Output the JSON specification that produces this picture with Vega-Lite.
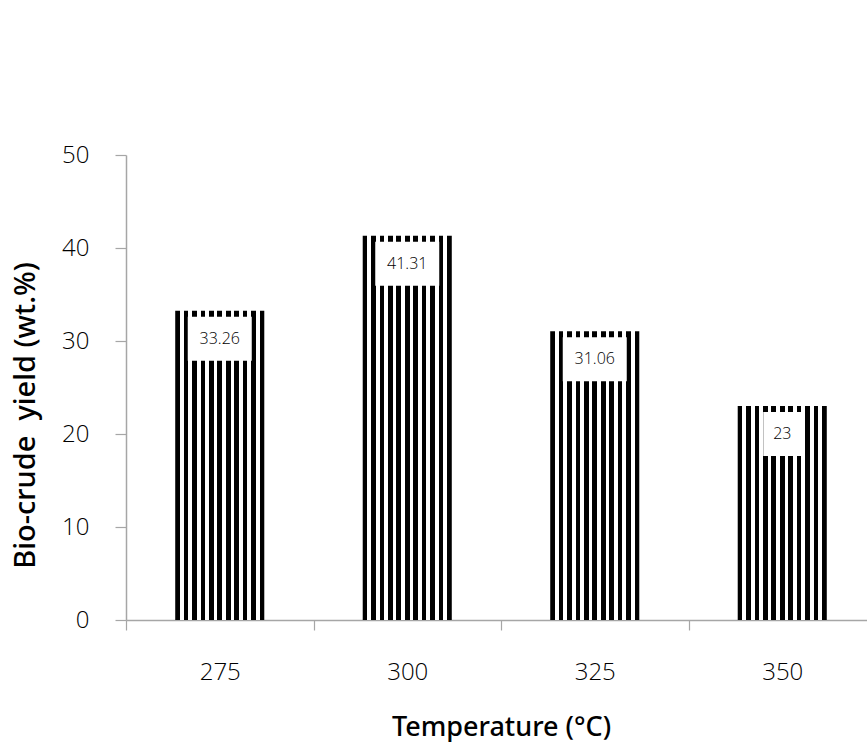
{
  "$schema": "https://vega.github.io/schema/vega-lite/v6.json",
  "width": 741,
  "height": 465,
  "autosize": {"type": "none"},
  "padding": {"left": 126, "top": 155, "right": 0, "bottom": 122},
  "background": "white",
  "config": {
    "view": {"stroke": null},
    "font": "Open Sans"
  },
  "data": {
    "values": [
      {"temperature": "275", "yield": 33.26, "label": "33.26"},
      {"temperature": "300", "yield": 41.31, "label": "41.31"},
      {"temperature": "325", "yield": 31.06, "label": "31.06"},
      {"temperature": "350", "yield": 23, "label": "23"}
    ]
  },
  "encoding": {
    "x": {
      "field": "temperature",
      "type": "nominal",
      "sort": null,
      "scale": {"range": [0, 750], "paddingInner": 0, "paddingOuter": 0},
      "axis": {
        "title": "Temperature (°C)",
        "titleFont": "Noto Sans",
        "titleFontSize": 27,
        "titleFontWeight": 500,
        "titleColor": "#000000",
        "titleX": 375,
        "titleY": 107,
        "titleBaseline": "middle",
        "labelAngle": 0,
        "labelFont": "Open Sans",
        "labelFontSize": 24,
        "labelFontWeight": 300,
        "labelColor": "#000000",
        "labelPadding": 30,
        "tickBand": "extent",
        "tickSize": 10,
        "tickColor": "#a6a6a6",
        "domainColor": "#a6a6a6",
        "tickWidth": 1.2,
        "domainWidth": 1.5,
        "grid": false
      }
    },
    "y": {
      "field": "yield",
      "type": "quantitative",
      "scale": {"domain": [0, 50]},
      "axis": {
        "title": "Bio-crude\u00a0 yield (wt.%)",
        "titleFont": "Noto Sans",
        "titleFontSize": 29,
        "titleFontWeight": 500,
        "titleColor": "#000000",
        "titleX": -101,
        "titleY": 260,
        "titleAngle": -90,
        "titleAlign": "center",
        "titleBaseline": "middle",
        "values": [0, 10, 20, 30, 40, 50],
        "labelFont": "Open Sans",
        "labelFontSize": 24,
        "labelFontWeight": 300,
        "labelColor": "#000000",
        "labelPadding": 26,
        "tickSize": 11,
        "tickColor": "#a6a6a6",
        "domainColor": "#a6a6a6",
        "tickWidth": 1.2,
        "domainWidth": 1.5,
        "grid": false
      }
    }
  },
  "layer": [
    {
      "mark": {
        "type": "bar",
        "width": {"band": 0.475},
        "fill": {
          "gradient": "linear",
          "x1": 0, "y1": 0, "x2": 1, "y2": 0,
          "stops": [
            {"offset": 0, "color": "#000000"}, {"offset": 0.052, "color": "#000000"},
            {"offset": 0.052, "color": "#ffffff"}, {"offset": 0.0948, "color": "#ffffff"},
            {"offset": 0.0948, "color": "#000000"}, {"offset": 0.1468, "color": "#000000"},
            {"offset": 0.1468, "color": "#ffffff"}, {"offset": 0.1896, "color": "#ffffff"},
            {"offset": 0.1896, "color": "#000000"}, {"offset": 0.2416, "color": "#000000"},
            {"offset": 0.2416, "color": "#ffffff"}, {"offset": 0.2844, "color": "#ffffff"},
            {"offset": 0.2844, "color": "#000000"}, {"offset": 0.3364, "color": "#000000"},
            {"offset": 0.3364, "color": "#ffffff"}, {"offset": 0.3792, "color": "#ffffff"},
            {"offset": 0.3792, "color": "#000000"}, {"offset": 0.4312, "color": "#000000"},
            {"offset": 0.4312, "color": "#ffffff"}, {"offset": 0.474, "color": "#ffffff"},
            {"offset": 0.474, "color": "#000000"}, {"offset": 0.526, "color": "#000000"},
            {"offset": 0.526, "color": "#ffffff"}, {"offset": 0.5688, "color": "#ffffff"},
            {"offset": 0.5688, "color": "#000000"}, {"offset": 0.6208, "color": "#000000"},
            {"offset": 0.6208, "color": "#ffffff"}, {"offset": 0.6636, "color": "#ffffff"},
            {"offset": 0.6636, "color": "#000000"}, {"offset": 0.7156, "color": "#000000"},
            {"offset": 0.7156, "color": "#ffffff"}, {"offset": 0.7584, "color": "#ffffff"},
            {"offset": 0.7584, "color": "#000000"}, {"offset": 0.8104, "color": "#000000"},
            {"offset": 0.8104, "color": "#ffffff"}, {"offset": 0.8532, "color": "#ffffff"},
            {"offset": 0.8532, "color": "#000000"}, {"offset": 0.9052, "color": "#000000"},
            {"offset": 0.9052, "color": "#ffffff"}, {"offset": 0.948, "color": "#ffffff"},
            {"offset": 0.948, "color": "#000000"}, {"offset": 1, "color": "#000000"}
          ]
        },
        "strokeWidth": 0
      }
    },
    {
      "mark": {
        "type": "point",
        "filled": true,
        "fill": "#ffffff",
        "opacity": 1,
        "strokeWidth": 0,
        "size": 4096,
        "yOffset": 28
      },
      "encoding": {
        "shape": {
          "field": "label",
          "type": "nominal",
          "legend": null,
          "scale": {
            "domain": ["33.26", "41.31", "31.06", "23"],
            "range": [
              "M-1,-0.6875L1,-0.6875L1,0.6875L-1,0.6875Z",
              "M-1,-0.6875L1,-0.6875L1,0.6875L-1,0.6875Z",
              "M-1,-0.6875L1,-0.6875L1,0.6875L-1,0.6875Z",
              "M-0.594,-0.6875L0.594,-0.6875L0.594,0.6875L-0.594,0.6875Z"
            ]
          }
        }
      }
    },
    {
      "mark": {
        "type": "text",
        "font": "Open Sans",
        "fontSize": 16,
        "fontWeight": 300,
        "color": "#000000",
        "baseline": "middle",
        "align": "center",
        "yOffset": 28
      },
      "encoding": {
        "text": {"field": "label", "type": "nominal"}
      }
    }
  ]
}
